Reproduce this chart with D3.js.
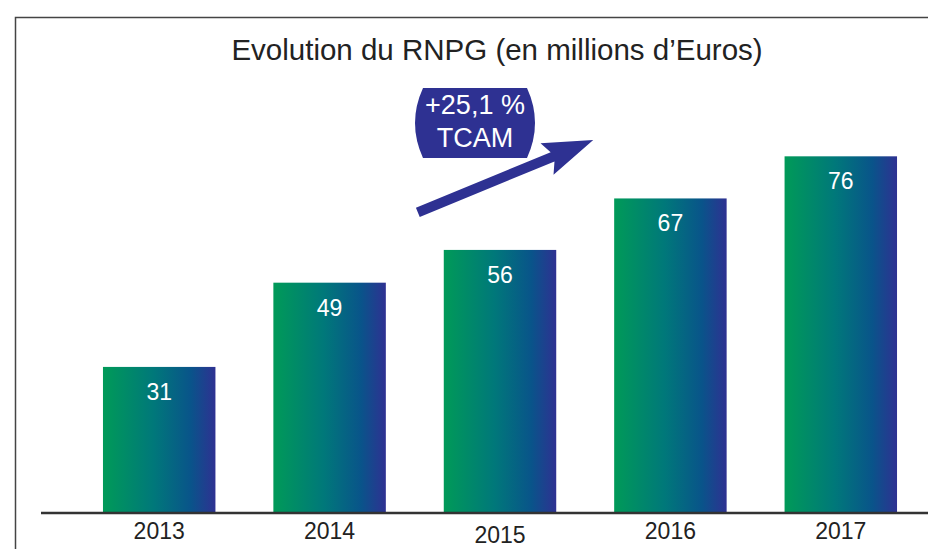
<!DOCTYPE html>
<html>
<head>
<meta charset="utf-8">
<script src="https://cdn.jsdelivr.net/npm/d3@7"></script>
<style>
  body { margin: 0; background: #fff; }
  svg { display: block; font-family: "Liberation Sans", Arial, sans-serif; }
</style>
</head>
<body>
<svg id="chart" width="928" height="549"></svg>
<script>
const years = ["2013", "2014", "2015", "2016", "2017"];
const values = [31, 49, 56, 67, 76];
const title = "Evolution du RNPG (en millions d\u2019Euros)";
const badge_lines = ["+25,1 %", "TCAM"];

const svg = d3.select("#chart");
const width = 928;
const height = 549;
const base_y = 512;

const data = years.map((y, i) => ({ year: y, value: values[i] }));

// scales
const x = d3.scaleBand()
    .domain(years)
    .range([74, 926])
    .paddingInner(0.34)
    .paddingOuter(0.17);

const y = d3.scaleLinear()
    .domain([0, 100])
    .range([base_y, base_y - 468]);

// gradient for bars
const defs = svg.append("defs");
const grad = defs.append("linearGradient")
    .attr("id", "barGrad")
    .attr("x1", "0%").attr("x2", "100%")
    .attr("y1", "0%").attr("y2", "0%");
grad.append("stop").attr("offset", "0%").attr("stop-color", "#009a58");
grad.append("stop").attr("offset", "45%").attr("stop-color", "#00787a");
grad.append("stop").attr("offset", "78%").attr("stop-color", "#09548a");
grad.append("stop").attr("offset", "100%").attr("stop-color", "#2e3192");

// frame
svg.append("path")
    .attr("d", `M15.5,${height} V17.5 H${width}`)
    .attr("fill", "none")
    .attr("stroke", "#444")
    .attr("stroke-width", 1.5);

// title
svg.append("text")
    .attr("x", 497)
    .attr("y", 60)
    .attr("text-anchor", "middle")
    .style("font-size", "29.5px")
    .style("fill", "#222")
    .text(title);

// bars
svg.append("g")
    .selectAll("rect")
    .data(data)
    .join("rect")
    .attr("x", d => x(d.year))
    .attr("y", d => y(d.value))
    .attr("width", x.bandwidth())
    .attr("height", d => y(0) - y(d.value))
    .attr("fill", "url(#barGrad)");

// value labels
svg.append("g")
    .selectAll("text")
    .data(data)
    .join("text")
    .attr("x", d => x(d.year) + x.bandwidth() / 2)
    .attr("y", d => y(d.value) + 33)
    .attr("text-anchor", "middle")
    .style("font-size", "23px")
    .style("fill", "#fff")
    .text(d => d.value);

// baseline
svg.append("line")
    .attr("x1", 41)
    .attr("x2", width)
    .attr("y1", y(0) + 1)
    .attr("y2", y(0) + 1)
    .attr("stroke", "#333")
    .attr("stroke-width", 2.5);

// x labels (2015 sits a bit lower in the original)
svg.append("g")
    .selectAll("text")
    .data(data)
    .join("text")
    .attr("x", d => x(d.year) + x.bandwidth() / 2)
    .attr("y", d => d.year === "2015" ? 543 : 539)
    .attr("text-anchor", "middle")
    .style("font-size", "23px")
    .style("fill", "#222")
    .text(d => d.year);

// growth arrow, anchored on the scales
const ax0 = x("2014") + x.bandwidth() + 32;
const ay0 = y(64);
const ax1 = x("2015") + x.bandwidth() + 37;
const ay1 = y(79.5);
const ang = Math.atan2(ay1 - ay0, ax1 - ax0);
const len = Math.hypot(ax1 - ax0, ay1 - ay0);
const head = 44, hw = 17, sw = 5;
svg.append("path")
    .attr("transform", `translate(${ax0},${ay0}) rotate(${ang * 180 / Math.PI})`)
    .attr("d", `M0,${-sw} L${len - head},${-sw} L${len - head - 6},${-hw} L${len},0 L${len - head - 6},${hw} L${len - head},${sw} L0,${sw} Z`)
    .attr("fill", "#2e3192");

// badge
const bx = 475, by0 = 88, by1 = 158, bw = 116;
svg.append("path")
    .attr("d", `M${bx - bw / 2 + 6},${by0} H${bx + bw / 2 - 6} Q${bx + bw / 2 + 10},${(by0 + by1) / 2} ${bx + bw / 2 - 6},${by1} H${bx - bw / 2 + 6} Q${bx - bw / 2 - 10},${(by0 + by1) / 2} ${bx - bw / 2 + 6},${by0} Z`)
    .attr("fill", "#2e3192");

svg.append("g")
    .selectAll("text")
    .data(badge_lines)
    .join("text")
    .attr("x", bx)
    .attr("y", (d, i) => 114 + i * 33)
    .attr("text-anchor", "middle")
    .style("font-size", "27px")
    .style("fill", "#fff")
    .text(d => d);
</script>
</body>
</html>
